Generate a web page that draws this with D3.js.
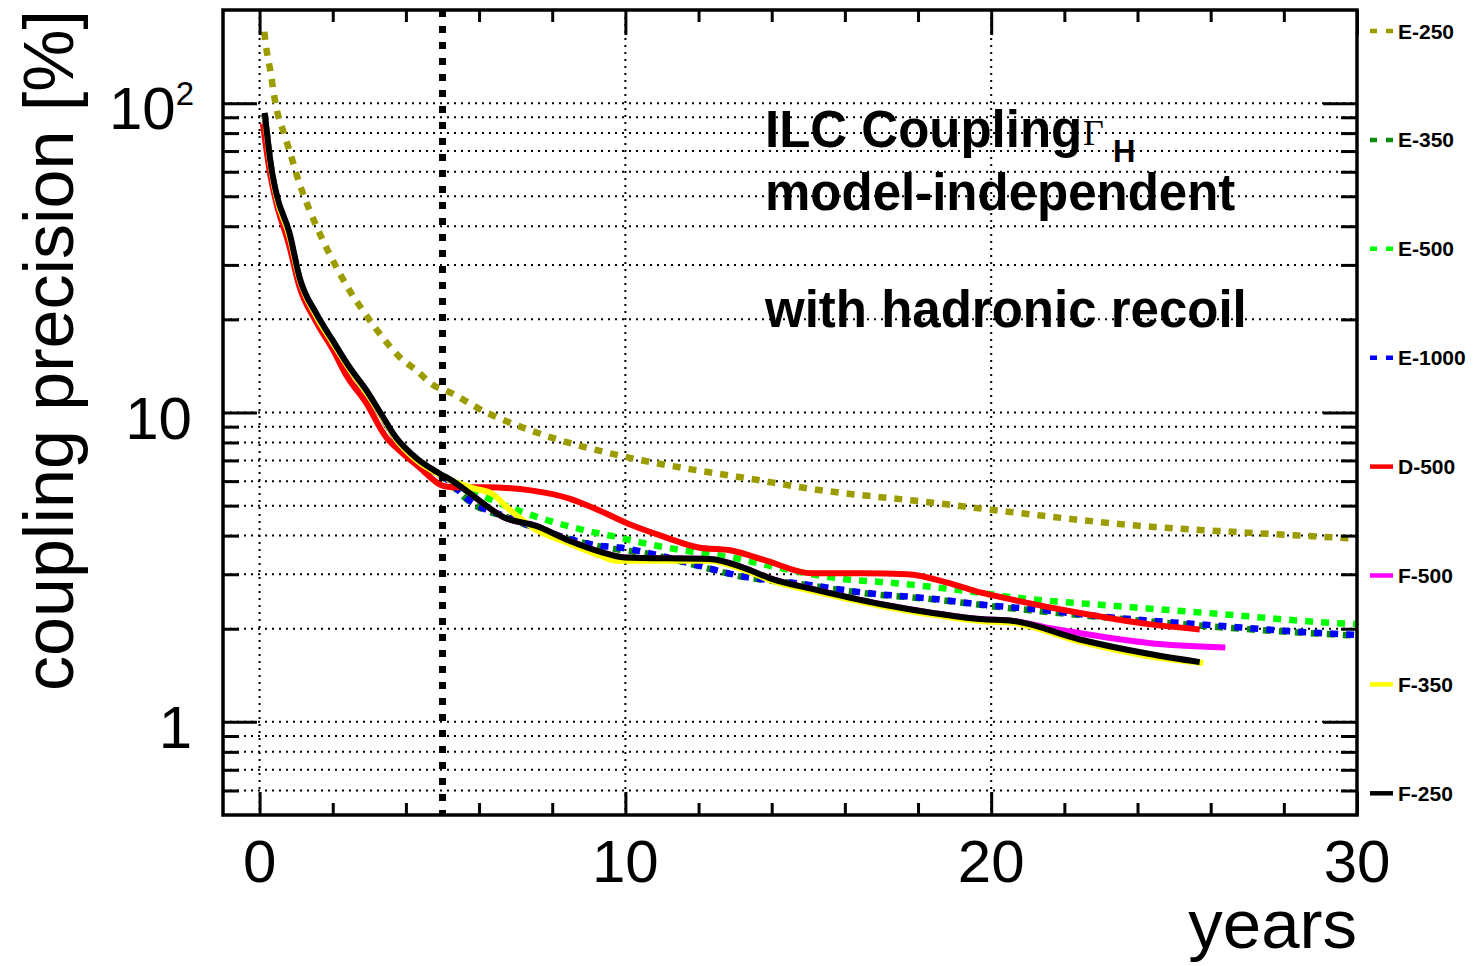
<!DOCTYPE html>
<html>
<head>
<meta charset="utf-8">
<script src="https://cdn.jsdelivr.net/npm/d3@7"></script>
<style>
body { margin: 0; background: #fff; }
svg text { font-family: "Liberation Sans", Arial, Helvetica, sans-serif; fill: #000; }
</style>
</head>
<body>
<div class="chart"></div>
<script>

// ---- data (years, coupling precision in %) ----
var names  = ["E-250", "E-350", "E-500", "E-1000", "D-500", "F-500", "F-350", "F-250"];
var colors = ["#9c9c00", "#0a8c0a", "#00ff00", "#0000ff", "#ff0000", "#ff00ff", "#ffff00", "#000000"];
var dashed = [true, true, true, true, false, false, false, false];

// first stage, common to the scenarios hidden under the black curve
var stage1 = [[0.14,92],[0.32,61],[0.46,50],[0.82,37],[1.09,27],[1.55,20.5],[2.0,16.8],[2.46,13.8],
              [2.92,11.6],[3.3,9.9],[3.73,8.2],[4.3,7.0],[4.92,6.3]];

var e250 = [[0.13,170],[0.16,158],[0.3,126],[0.44,99],[0.68,79],[0.82,70],[1.09,55],[1.37,45],[1.73,36],
            [2.1,29.5],[2.46,24.8],[2.82,21.4],[3.28,18.0],[3.83,15.1],[4.28,13.7],[4.83,12.1],[5.0,11.9],
            [6.2,10.0],[7.65,8.55],[9.84,7.26],[12.0,6.49],[13.4,6.11],[15.0,5.68],[18.4,5.11],[20.0,4.85],
            [24.3,4.28],[27.0,4.09],[30.0,3.91]];

var e350 = stage1.concat([[5.1,6.05],[5.74,5.15],[6.83,4.55],[8.0,4.04],[9.29,3.69],[10.7,3.48],[12.0,3.19],
            [13.1,2.96],[14.75,2.79],[16.6,2.6],[18.4,2.49],[20.1,2.36],[23.4,2.16],[26.1,2.03],[28.9,1.93],[30,1.9]]);

var e500 = stage1.concat([[5.3,6.0],[6.2,5.31],[7.65,4.57],[8.93,4.15],[9.84,3.94],[10.2,3.85],[11.6,3.58],
            [12.9,3.4],[14.3,3.13],[15.7,2.92],[17.5,2.8],[19.3,2.65],[20.7,2.52],[23.4,2.37],[26.1,2.24],
            [29.3,2.09],[30,2.07]]);

var e1000 = stage1.concat([[5.1,6.1],[5.74,5.19],[6.83,4.57],[8.0,4.06],[9.29,3.71],[9.84,3.66],[10.7,3.5],
            [12.0,3.2],[13.1,2.97],[14.75,2.8],[16.6,2.61],[18.4,2.5],[20.1,2.37],[20.7,2.34],[23.4,2.17],
            [26.1,2.05],[28.9,1.94],[30,1.91]]);

var d500 = [[0.09,86],[0.3,58],[0.45,48],[0.8,35],[1.09,25.5],[1.55,19.6],[2.0,16.0],[2.37,13.2],[2.9,10.8],
            [3.46,8.32],[3.9,7.4],[4.37,6.65],[5.0,5.8],[5.28,5.73],[6.2,5.73],[7.46,5.59],[8.47,5.27],
            [9.29,4.82],[10.2,4.31],[11.1,3.95],[12.0,3.66],[12.9,3.58],[13.85,3.32],[15.1,3.02],[16.5,3.02],
            [17.7,3.0],[18.8,2.82],[19.7,2.62],[20.2,2.54],[22.5,2.24],[24.3,2.07],[25.7,1.99]];

var f500 = stage1.concat([[5.28,6.0],[6.0,5.2],[6.65,4.6],[7.56,4.3],[8.47,3.85],[9.3,3.55],[9.97,3.4],
            [12.3,3.36],[13.2,3.16],[14.0,2.9],[15.1,2.69],[17.0,2.4],[18.4,2.25],[19.7,2.15],[20.6,2.12],
            [21.5,2.02],[22.5,1.93],[24.3,1.8],[26.4,1.74]]);

var f350 = stage1.concat([[5.28,6.0],[5.46,5.89],[5.82,5.7],[6.37,5.45],[6.75,4.95],[7.1,4.57],[7.46,4.25],
            [8.47,3.77],[9.3,3.45],[9.75,3.32],[12.3,3.32],[13.2,3.11],[14.0,2.86],[15.1,2.65],[17.0,2.37],
            [18.4,2.22],[19.7,2.12],[20.6,2.09],[22.4,1.82],[24.3,1.63],[25.8,1.55]]);

var f250 = [[0.14,93],[0.32,62],[0.46,51],[0.82,38],[1.09,27.4],[1.55,20.9],[2.0,17.1],[2.46,14.0],[2.92,11.8],
            [3.3,10.0],[3.73,8.3],[4.3,7.1],[4.92,6.35],[5.28,6.0],[6.0,5.2],[6.65,4.6],[7.56,4.3],[8.47,3.85],
            [9.3,3.55],[9.97,3.4],[12.3,3.36],[13.2,3.16],[14.0,2.9],[15.1,2.69],[17.0,2.4],[18.4,2.25],
            [19.7,2.15],[20.6,2.12],[22.4,1.85],[24.3,1.66],[25.7,1.56]];

var series = [e250, e350, e500, e1000, d500, f500, f350, f250];

// ticks
var xMajor = [0, 10, 20, 30];
var xTickLabels = ["0", "10", "20", "30"];
var xMinor = [2, 4, 6, 8, 12, 14, 16, 18, 22, 24, 26, 28];
var yMajor = [1, 10, 100];
var yTickLabels = ["1", "10", "10"];
var yTickSup = ["", "", "2"];
var stageEnd = [5];   // end of first stage, thick dotted line

// ---- layout ----
var W = 1475, H = 966;
var plotL = 223, plotR = 1357, plotT = 10, plotB = 815;

var svg = d3.select("div.chart").append("svg")
            .attr("width", W)
            .attr("height", H);

var x = d3.scaleLinear().domain([-1, 30]).range([plotL, plotR]);
var y = d3.scaleLog().domain([0.5, 200]).range([plotB, plotT]);

var yAll = y.ticks().filter(function(v){ return v > 0.5 && v < 200; });
var yMinor = yAll.filter(function(v){ return yMajor.indexOf(v) < 0; });

svg.append("clipPath").attr("id", "frame")
   .append("rect").attr("x", plotL).attr("y", plotT).attr("width", plotR-plotL).attr("height", plotB-plotT);

//grid
var grid = svg.append("g").attr("stroke", "#000").attr("stroke-width", 2).attr("stroke-dasharray", "2,5");
grid.selectAll(".hg").data(yAll).enter().append("line")
    .attr("x1", plotL).attr("x2", plotR)
    .attr("y1", function(d){ return y(d); }).attr("y2", function(d){ return y(d); });
grid.selectAll(".vg").data(xMajor.slice(0, 3)).enter().append("line")
    .attr("y1", plotT).attr("y2", plotB)
    .attr("x1", function(d){ return x(d); }).attr("x2", function(d){ return x(d); });

//curves
var line = d3.line()
    .x(function(d){ return x(d[0]); })
    .y(function(d){ return y(d[1]); })
    .curve(d3.curveMonotoneX);

var curves = svg.append("g").attr("clip-path", "url(#frame)");
series.forEach(function(s, i){
  curves.append("path")
      .attr("d", line(s))
      .attr("fill", "none")
      .attr("stroke", colors[i])
      .attr("stroke-width", dashed[i] ? 6.5 : 6)
      .attr("stroke-linejoin", "round")
      .attr("stroke-dasharray", dashed[i] ? "8,8" : null)
      .attr("stroke-dashoffset", i == 1 ? 3 : 0);
});

//end of stage one
svg.selectAll(".stage").data(stageEnd).enter().append("line")
    .attr("x1", function(d){ return x(d); }).attr("x2", function(d){ return x(d); })
    .attr("y1", plotT).attr("y2", plotB)
    .attr("stroke", "#000").attr("stroke-width", 7).attr("stroke-dasharray", "7,9");

//frame and ticks
function ticks(axis, tx, ty) {
  var g = svg.append("g").attr("transform", "translate(" + tx + "," + ty + ")").call(axis.tickFormat(""));
  g.select(".domain").remove();
  g.selectAll(".tick line").attr("stroke", "#000").attr("stroke-width", 3);
}
ticks(d3.axisRight(y).tickValues(yMajor).tickSize(34), plotL, 0);
ticks(d3.axisRight(y).tickValues(yMinor).tickSize(16), plotL, 0);
ticks(d3.axisLeft(y).tickValues(yMajor).tickSize(34), plotR, 0);
ticks(d3.axisLeft(y).tickValues(yMinor).tickSize(16), plotR, 0);
ticks(d3.axisTop(x).tickValues(xMajor).tickSize(23), 0, plotB);
ticks(d3.axisTop(x).tickValues(xMinor).tickSize(12), 0, plotB);
ticks(d3.axisBottom(x).tickValues(xMajor).tickSize(25), 0, plotT);
ticks(d3.axisBottom(x).tickValues(xMinor).tickSize(12), 0, plotT);

svg.append("rect")
   .attr("x", plotL).attr("y", plotT).attr("width", plotR-plotL).attr("height", plotB-plotT)
   .attr("fill", "none").attr("stroke", "#000").attr("stroke-width", 3.5);

//tick labels
svg.selectAll(".xl").data(xMajor).enter().append("text")
   .attr("x", function(d){ return x(d); })
   .attr("y", 882)
   .attr("text-anchor", "middle")
   .attr("font-size", 60)
   .text(function(d, i){ return xTickLabels[i]; });

var yl = svg.selectAll(".yl").data(yMajor).enter().append("text")
   .attr("x", function(d, i){ return yTickSup[i] ? 194 : 192; })
   .attr("y", function(d){ return y(d) + 26; })
   .attr("text-anchor", "end")
   .attr("font-size", 60);
yl.append("tspan").text(function(d, i){ return yTickLabels[i]; });
yl.append("tspan").attr("font-size", 33).attr("dy", -24).text(function(d, i){ return yTickSup[i]; });

//axis titles
svg.append("text")
   .attr("transform", "translate(73,10) rotate(-90)")
   .attr("text-anchor", "end")
   .attr("font-size", 70)
   .text("coupling precision [%]");

svg.append("text")
   .attr("x", plotR).attr("y", 948)
   .attr("text-anchor", "end")
   .attr("font-size", 69)
   .text("years");

//labels inside the plot
var t1 = svg.append("text").attr("x", 765).attr("y", 147).attr("font-size", 51).attr("font-weight", "bold");
t1.append("tspan").text("ILC Coupling");
t1.append("tspan").attr("x", 1083).attr("font-family", "'Liberation Serif', 'Times New Roman', serif")
  .attr("font-weight", "normal").attr("font-size", 36).attr("dy", -2).text("Γ");
t1.append("tspan").attr("x", 1113).attr("font-size", 31).attr("dy", 17).text("H");

svg.append("text").attr("x", 765).attr("y", 210).attr("font-size", 51).attr("font-weight", "bold")
   .text("model-independent");
svg.append("text").attr("x", 765).attr("y", 327).attr("font-size", 51).attr("font-weight", "bold")
   .text("with hadronic recoil");

//legend
var leg = svg.selectAll(".leg").data(names).enter().append("g")
   .attr("transform", function(d, i){ return "translate(1370," + (31 + i*108.9) + ")"; });
leg.append("line")
   .attr("x1", 0).attr("x2", 23).attr("y1", 0).attr("y2", 0)
   .attr("stroke", function(d, i){ return colors[i]; })
   .attr("stroke-width", 4.5)
   .attr("stroke-dasharray", function(d, i){ return dashed[i] ? "7,9" : null; });
leg.append("text")
   .attr("x", 28).attr("y", 7.5)
   .attr("font-size", 21)
   .attr("font-weight", "bold")
   .text(function(d){ return d; });

</script>
</body>
</html>
